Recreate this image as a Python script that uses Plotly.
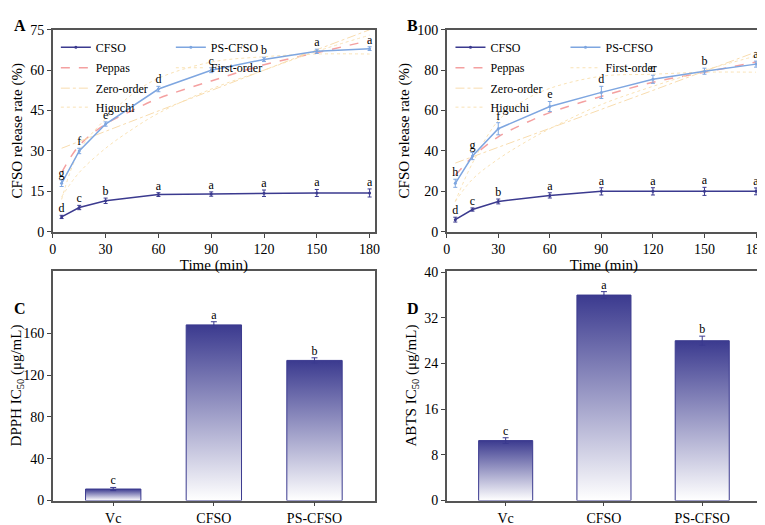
import plotly.graph_objects as go

t = [5, 15, 30, 60, 90, 120, 150, 180]
A_cfso = [5.5, 9, 11.5, 13.8, 14, 14.3, 14.4, 14.4]
A_cfso_err = [0.6, 0.8, 1.0, 0.7, 0.8, 1.2, 1.3, 1.5]
A_cfso_lab = ["d", "c", "b", "a", "a", "a", "a", "a"]
A_ps = [18, 30, 40, 53, 60, 64, 67, 68]
A_ps_err = [1.2, 1.0, 0.8, 1.0, 0.9, 0.8, 0.8, 0.7]
A_ps_lab = ["g", "f", "e", "d", "c", "b", "a", "a"]

B_cfso = [6, 11, 15, 18, 20, 20, 20, 20]
B_cfso_err = [1.2, 0.8, 1.2, 1.3, 1.8, 1.8, 2.0, 1.7]
B_cfso_lab = ["d", "c", "b", "a", "a", "a", "a", "a"]
B_ps = [24, 37.5, 51, 62, 69, 75.5, 79.5, 83]
B_ps_err = [2.0, 1.8, 3.0, 2.5, 3.0, 2.0, 1.5, 1.5]
B_ps_lab = ["h", "g", "f", "e", "d", "c", "b", "a"]

tf = [5, 15, 30, 45, 60, 90, 120, 150, 180]
A_peppas = [22, 32, 40, 45, 49.5, 56, 62, 66.5, 71]
A_first = [12, 30, 42, 51, 57, 63, 65, 66, 66]
A_zero = [31, 33.5, 37.3, 41, 44.8, 52.4, 60, 67.6, 75]
A_higuchi = [13, 22, 31, 38, 44, 53, 60, 67, 73]
B_peppas = [28, 37, 47, 53.5, 59, 67, 74, 79, 84]
B_first = [15, 34, 55, 65, 71, 77, 78, 79, 79]
B_zero = [34, 37.1, 41.8, 46.5, 51.2, 60.6, 70, 79.5, 89]
B_higuchi = [15, 26, 36, 44, 51, 63, 72, 80, 87]

cats = ["Vc", "CFSO", "PS-CFSO"]
C_vals = [11, 168, 134]
C_err = [1.5, 3, 2.5]
C_lab = ["c", "a", "b"]
D_vals = [10.5, 36, 28]
D_err = [0.5, 0.6, 0.8]
D_lab = ["c", "a", "b"]

DARK = "#3b3a8f"
LIGHT = "#7ea6e0"
FONT = "Liberation Serif"

fig = go.Figure()

def release(xa, ya, cfso, ce, cl, ps, pe, pl, pep, fo, zo, hi, lg):
    fig.add_trace(go.Scatter(x=tf, y=pep, mode="lines", name="Peppas", line=dict(color="#f4a0a0", dash="dash", width=1.5, shape="spline"), xaxis=xa, yaxis=ya, legend=lg[1]))
    fig.add_trace(go.Scatter(x=tf, y=fo, mode="lines", name="First-order", line=dict(color="#f9e2b5", dash="dot", width=1, shape="spline"), xaxis=xa, yaxis=ya, legend=lg[1]))
    fig.add_trace(go.Scatter(x=tf, y=zo, mode="lines", name="Zero-order", line=dict(color="#f8dcae", dash="dashdot", width=1), xaxis=xa, yaxis=ya, legend=lg[2]))
    fig.add_trace(go.Scatter(x=tf, y=hi, mode="lines", name="Higuchi", line=dict(color="#f9e2b5", dash="dot", width=1, shape="spline"), xaxis=xa, yaxis=ya, legend=lg[2]))
    for y, e, lab, c, n in [(cfso, ce, cl, DARK, "CFSO"), (ps, pe, pl, LIGHT, "PS-CFSO")]:
        fig.add_trace(go.Scatter(x=t, y=y, mode="lines+markers", name=n, line=dict(color=c, width=1.5),
                                 marker=dict(size=3, color=c), error_y=dict(array=e, color=c, thickness=1, width=2),
                                 xaxis=xa, yaxis=ya, legend=lg[0]))
        fig.add_trace(go.Scatter(x=t, y=[a + b for a, b in zip(y, e)], mode="text", text=lab, textposition="top center",
                                 textfont=dict(family=FONT, size=12, color="black"), showlegend=False, xaxis=xa, yaxis=ya, hoverinfo="skip"))

release("x", "y", A_cfso, A_cfso_err, A_cfso_lab, A_ps, A_ps_err, A_ps_lab, A_peppas, A_first, A_zero, A_higuchi, ["legend", "legend2", "legend3"])
release("x2", "y2", B_cfso, B_cfso_err, B_cfso_lab, B_ps, B_ps_err, B_ps_lab, B_peppas, B_first, B_zero, B_higuchi, ["legend4", "legend5", "legend6"])

def bars(xa, ya, vals, err, lab):
    hw = 0.275
    for i, v in enumerate(vals):
        fig.add_trace(go.Scatter(x=[i - hw, i - hw, i + hw, i + hw, i - hw], y=[0, v, v, 0, 0], mode="lines", fill="toself",
                                 fillgradient=dict(type="vertical", colorscale=[[0, "#ffffff"], [1, "#3b3a8f"]]),
                                 line=dict(color=DARK, width=1), showlegend=False, xaxis=xa, yaxis=ya, hoverinfo="skip"))
    fig.add_trace(go.Scatter(x=list(range(len(vals))), y=vals, mode="markers", marker=dict(size=1, color=DARK),
                             error_y=dict(array=err, color=DARK, thickness=1, width=3), showlegend=False, xaxis=xa, yaxis=ya))
    fig.add_trace(go.Scatter(x=list(range(len(vals))), y=[a + b for a, b in zip(vals, err)], mode="text", text=lab,
                             textposition="top center", textfont=dict(family=FONT, size=12, color="black"),
                             showlegend=False, xaxis=xa, yaxis=ya))

bars("x3", "y3", C_vals, C_err, C_lab)
bars("x4", "y4", D_vals, D_err, D_lab)

ax = dict(showline=True, mirror=True, linecolor="#555", linewidth=1.5, ticks="outside", ticklen=4, showgrid=False, zeroline=False,
          tickfont=dict(family=FONT, size=14, color="black"))
tfont = dict(family=FONT, size=15, color="black")

xA = [0.054, 0.480]; xB = [0.575, 0.991]
yTop = [0.575, 0.971]; yBot = [0.048, 0.499]
lay = dict(
    width=765, height=525, margin=dict(l=0, r=0, t=0, b=0), plot_bgcolor="white", paper_bgcolor="white",
    font=dict(family=FONT, color="black"),
    xaxis=dict(ax, domain=xA, anchor="y", range=[0, 183], tickvals=[0, 30, 60, 90, 120, 150, 180], title=dict(text="Time (min)", font=tfont, standoff=0)),
    yaxis=dict(ax, domain=yTop, anchor="x", range=[0, 75], tickvals=[0, 15, 30, 45, 60, 75], title=dict(text="CFSO release rate (%)", font=tfont, standoff=4)),
    xaxis2=dict(ax, domain=xB, anchor="y2", range=[0, 183], tickvals=[0, 30, 60, 90, 120, 150, 180], title=dict(text="Time (min)", font=tfont, standoff=0)),
    yaxis2=dict(ax, domain=yTop, anchor="x2", range=[0, 100], tickvals=[0, 20, 40, 60, 80, 100], title=dict(text="CFSO release rate (%)", font=tfont, standoff=4)),
    xaxis3=dict(ax, domain=xA, anchor="y3", range=[-0.6, 2.6], tickvals=[0, 1, 2], ticktext=cats),
    yaxis3=dict(ax, domain=yBot, anchor="x3", range=[0, 220], tickvals=[0, 40, 80, 120, 160], title=dict(text="DPPH IC<sub>50</sub> (μg/mL)", font=tfont, standoff=4)),
    xaxis4=dict(ax, domain=xB, anchor="y4", range=[-0.6, 2.6], tickvals=[0, 1, 2], ticktext=cats),
    yaxis4=dict(ax, domain=yBot, anchor="x4", range=[0, 40.3], tickvals=[0, 8, 16, 24, 32, 40], title=dict(text="ABTS IC<sub>50</sub> (μg/mL)", font=tfont, standoff=4)),
)
lf = dict(family=FONT, size=12, color="black")
def legs(x0, names):
    ys = [0.965, 0.925, 0.885]
    for n, y, o in zip(names, ys, ["h", "h", "v"]):
        lay[n] = dict(x=x0, y=y, xanchor="left", yanchor="top", orientation=o, bgcolor="rgba(0,0,0,0)", font=lf,
                      entrywidth=70, tracegroupgap=0, itemwidth=30)
legs(0.058, ["legend", "legend2", "legend3"])
legs(0.58, ["legend4", "legend5", "legend6"])
fig.update_layout(**lay)

for txt, x, y in [("A", 0.0, 1.0), ("B", 0.52, 1.0), ("C", 0.0, 0.445), ("D", 0.52, 0.445)]:
    fig.add_annotation(text=f"<b>{txt}</b>", x=x, y=y, xref="paper", yref="paper", xanchor="left", yanchor="top",
                       showarrow=False, font=dict(family=FONT, size=16, color="black"))

fig.write_html("out.html")
